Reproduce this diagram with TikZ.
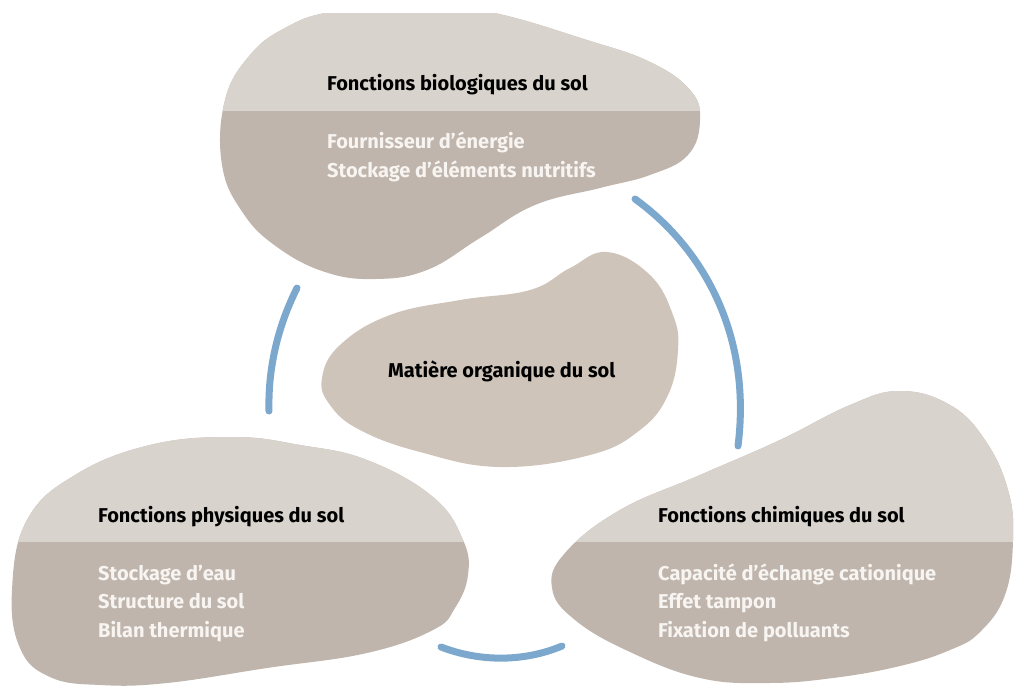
\documentclass[tikz,border=0pt]{standalone}
\usepackage{fontspec}
\setmainfont{Fira Sans}
\usepackage{tikz}
\usetikzlibrary{calc}
\definecolor{soilLight}{RGB}{217,211,205}
\definecolor{soilDark}{RGB}{191,181,172}
\definecolor{soilCore}{RGB}{206,196,186}
\definecolor{linkBlue}{RGB}{124,168,206}
\definecolor{itemWhite}{RGB}{247,244,241}
\tikzset{%
  % Specifications for style of nodes:
  base/.style = {inner sep=0pt, anchor=base west,
    font=\fontsize{20}{24}\selectfont\bfseries},
  heading/.style = {base, text=black},
  item/.style = {base, text=itemWhite},
  % Specifications for the links between the blobs:
  link/.style = {draw=linkBlue, line width=7pt, line cap=round},
}
% outlines of the blobs (in pixel units)
\newcommand{\bioBlob}{plot[smooth cycle, tension=0.7] coordinates {
  (222,165) (225,100) (250,55) (285,28) (330,12) (410,4) (490,12)
  (587,40) (650,62) (690,90) (700,120) (688,155) (650,175) (600,188)
  (535,205) (480,238) (427,270) (375,279) (325,272) (277,247) (243,213)}}
\newcommand{\phyBlob}{plot[smooth cycle, tension=0.7] coordinates {
  (233,437) (300,445) (367,460) (433,497) (463,540) (468,575) (455,608)
  (433,630) (367,653) (267,668) (167,683) (100,685) (50,677) (20,648)
  (12,590) (27,520) (75,475) (150,445)}}
\newcommand{\chiBlob}{plot[smooth cycle, tension=0.7] coordinates {
  (900,391) (950,405) (985,440) (1008,490) (1013,540) (1005,595)
  (980,632) (950,650) (900,666) (833,678) (767,683) (700,678) (630,652)
  (575,620) (552,588) (565,553) (620,510) (700,475) (780,440) (850,405)}}
\newcommand{\mosBlob}{plot[smooth cycle, tension=0.7] coordinates {
  (607,252) (650,275) (673,315) (678,350) (668,395) (640,430) (590,455)
  (500,467) (420,452) (360,430) (330,405) (322,378) (340,345) (390,315)
  (460,300) (530,290) (570,268)}}

\begin{document}
\begin{tikzpicture}[x=1pt, y=-1pt]
    \useasboundingbox (0,0) rectangle (1014,689);
    \clip (0,13) rectangle (1014,689);
    % Blobs: dark body, light band on top
    \begin{scope}
      \fill[soilDark] \bioBlob;
      \clip \bioBlob;
      \fill[soilLight] (0,0) rectangle (1014,111);
    \end{scope}
    \begin{scope}
      \fill[soilDark] \phyBlob;
      \clip \phyBlob;
      \fill[soilLight] (0,400) rectangle (1014,542);
    \end{scope}
    \begin{scope}
      \fill[soilDark] \chiBlob;
      \clip \chiBlob;
      \fill[soilLight] (0,380) rectangle (1014,542);
    \end{scope}
    \fill[soilCore] \mosBlob;
    % Links
    \coordinate (bioPhyA) at (297,288);
    \coordinate (bioPhyB) at (269,411);
    \coordinate (bioChiA) at (635,199);
    \coordinate (bioChiB) at (738,446);
    \coordinate (phyChiA) at (441,647);
    \coordinate (phyChiB) at (562,646);
    \draw[link] (bioPhyA) .. controls (276,330) and (268,372) .. (bioPhyB);
    \draw[link] (bioChiA) .. controls (703,248) and (752,335) .. (bioChiB);
    \draw[link] (phyChiA) .. controls (480,662) and (524,662) .. (phyChiB);
    % Specification of nodes (position, etc.)
    \node[heading] (bioTitle) at (327,90) {Fonctions biologiques du sol};
    \node[item] (bioEnergy) at (327,148) {Fournisseur d’énergie};
    \node[item] (bioNutri) at (327,177) {Stockage d’éléments nutritifs};
    \node[heading] (mosTitle) at (388,377) {Matière organique du sol};
    \node[heading] (phyTitle) at (98,522) {Fonctions physiques du sol};
    \node[item] (phyWater) at (98,580) {Stockage d’eau};
    \node[item] (phyStruct) at (98,608) {Structure du sol};
    \node[item] (phyHeat) at (98,637) {Bilan thermique};
    \node[heading] (chiTitle) at (658,522) {Fonctions chimiques du sol};
    \node[item] (chiCec) at (658,580) {Capacité d’échange cationique};
    \node[item] (chiBuffer) at (658,608) {Effet tampon};
    \node[item] (chiFix) at (658,637) {Fixation de polluants};
\end{tikzpicture}
\end{document}
